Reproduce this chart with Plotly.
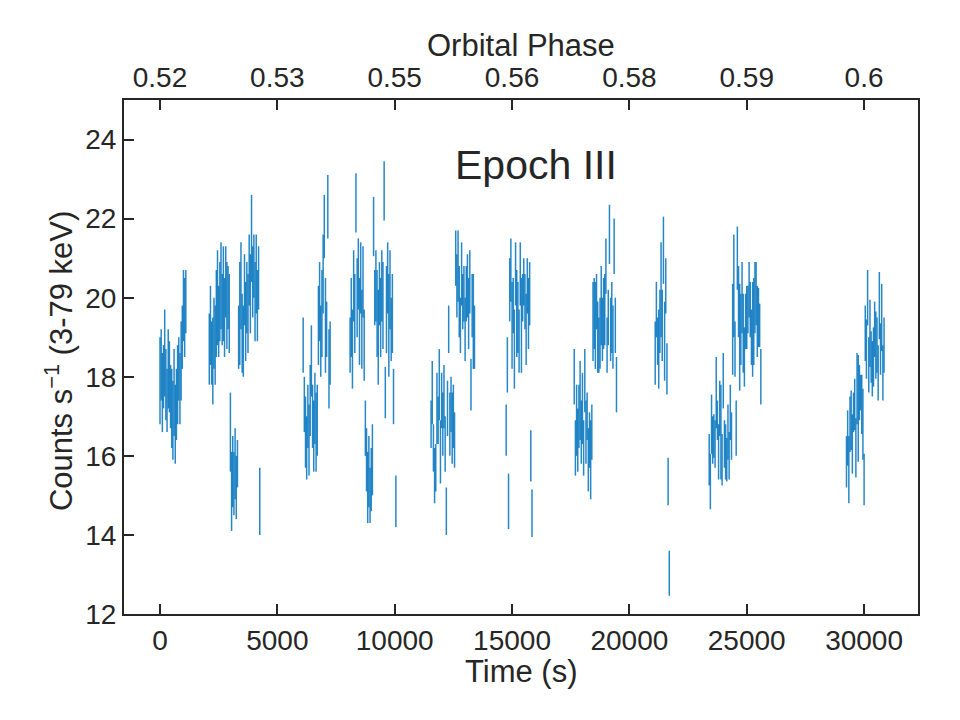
import plotly.graph_objects as go

# ---------------- data ----------------
TIME_S = [
    # orbit 1
    0, 50, 100, 150, 200, 250, 300, 350, 400, 450, 500, 550, 600, 650, 700, 750, 800, 850, 900, 950, 1000, 1050, 1100,
    # orbit 2
    2100, 2150, 2200, 2250, 2300, 2350, 2400, 2450, 2500, 2550, 2600, 2650, 2700, 2750, 2800, 2850, 2900, 2950,
    3000, 3050, 3100, 3150, 3200, 3250, 3300,
    3350, 3400, 3450, 3500, 3550, 3600, 3650, 3700, 3750, 3800, 3850, 3900, 3950, 4000, 4050, 4100, 4150, 4200,
    4250,
    # orbit 3
    6100, 6150, 6200, 6250, 6300, 6350, 6400, 6450, 6500, 6550, 6600, 6650, 6700,
    6750, 6800, 6850, 6900, 6950, 7000, 7050, 7100, 7150, 7200, 7250,
    # orbit 4
    8100, 8150, 8200, 8250, 8300, 8350, 8400, 8450, 8500, 8550, 8600, 8650, 8700,
    8750, 8800, 8850, 8900, 8950, 9000, 9050,
    9100, 9150, 9200, 9250, 9300, 9350, 9400, 9450, 9500, 9550, 9600, 9650, 9700, 9750, 9800, 9850, 9900, 9950,
    10050,
    # orbit 5
    11550, 11600, 11650, 11700, 11750, 11800, 11850, 11900, 11950, 12000, 12050, 12100, 12150, 12200, 12250,
    12300, 12350, 12400, 12450, 12500, 12550,
    12600, 12650, 12700, 12750, 12800, 12850, 12900, 12950, 13000, 13050, 13100, 13150, 13200, 13250, 13300,
    13350, 13400,
    # orbit 6
    14750, 14800, 14850, 14900, 14950, 15000, 15050, 15100, 15150, 15200, 15250, 15300, 15350, 15400, 15450,
    15500, 15550, 15600, 15650, 15700, 15750, 15800, 15850,
    # orbit 7
    17650, 17700, 17750, 17800, 17850, 17900, 17950, 18000, 18050, 18100, 18150, 18200, 18250, 18300, 18350, 18400,
    18450, 18500, 18550, 18600, 18650, 18700, 18750, 18800, 18850, 18900, 18950, 19000, 19050, 19100, 19150,
    19200, 19250, 19300, 19350, 19400, 19450,
    # orbit 8
    21100, 21150, 21200, 21250, 21300, 21350, 21400, 21450, 21500, 21550, 21600, 21650, 21700,
    # orbit 9
    23400, 23450, 23500, 23550, 23600, 23650, 23700, 23750, 23800, 23850, 23900, 23950, 24000, 24050, 24100,
    24150, 24200, 24250, 24300, 24350,
    24400, 24450, 24500, 24550, 24600, 24650, 24700, 24750, 24800, 24850, 24900, 24950, 25000, 25050, 25100,
    25150, 25200, 25250, 25300, 25350, 25400, 25450, 25500, 25550, 25600,
    # orbit 10
    29250, 29300, 29350, 29400, 29450, 29500, 29550, 29600, 29650, 29700, 29750, 29800, 29850, 29900, 29950,
    30000, 30050, 30100, 30150, 30200, 30250, 30300, 30350, 30400, 30450, 30500, 30550, 30600, 30650, 30700,
    30750, 30800, 30850,
]

RATE = [
    # orbit 1
    17.9, 18.3, 17.6, 18.0, 18.6, 17.8, 17.4, 18.2, 18.0, 17.5, 17.2, 16.9, 17.6, 16.8, 17.3, 17.8, 18.2, 17.7, 18.4, 19.0, 19.8, 19.5, 19.9,
    # orbit 2
    18.7, 19.3, 18.6, 18.4, 19.1, 18.8, 19.6, 20.0, 19.4, 19.9, 20.3, 19.7, 20.1, 19.5, 20.4, 19.8, 20.0, 19.6,
    16.6, 15.1, 15.6, 15.3, 15.8, 15.2, 15.8,
    19.0, 19.6, 20.3, 19.1, 18.9, 20.2, 19.4, 20.0, 19.6, 20.7, 20.1, 21.5, 20.4, 20.8, 19.9, 20.6, 19.8, 20.5,
    14.85,
    # orbit 3
    18.8, 17.3, 16.6, 16.2, 17.0, 16.4, 17.4, 18.4, 17.0, 16.5, 17.2, 16.6, 16.9,
    19.3, 19.9, 18.9, 19.6, 20.6, 21.8, 19.3, 19.2, 22.3, 18.2, 18.6,
    # orbit 4
    18.8, 19.5, 18.7, 20.3, 19.6, 22.4, 20.0, 20.6, 19.4, 20.5, 19.2, 20.4, 18.8,
    16.7, 15.9, 15.2, 15.6, 15.0, 15.4, 15.9,
    21.8, 20.0, 20.3, 19.6, 19.0, 20.1, 19.5, 20.3, 19.8, 22.7, 17.6, 19.7, 20.5, 19.3, 20.2, 19.2, 19.6, 17.5,
    14.85,
    # orbit 5
    16.8, 17.6, 16.2, 15.5, 15.7, 17.2, 16.9, 17.8, 16.1, 17.4, 16.8, 17.5, 16.3, 14.6, 17.2,
    19.2, 16.8, 17.3, 16.7, 17.0, 16.4,
    21.0, 20.3, 20.8, 19.9, 19.3, 20.6, 19.9, 20.1, 19.2, 20.1, 20.3, 19.6, 20.4, 17.8, 19.8,
    19.4, 19.0,
    # orbit 6
    16.65, 18.3, 14.85, 20.2, 20.7, 19.3, 19.8, 18.7, 20.6, 19.6, 19.5, 18.9, 20.6, 19.3, 20.0,
    20.4, 19.9, 19.2, 20.3, 19.6, 20.1, 16.0, 14.55,
    # orbit 7
    18.0, 16.2, 16.9, 16.4, 17.0, 17.4, 16.6, 17.2, 16.2, 17.9, 16.6, 17.0, 15.9, 16.4, 15.9, 16.6,
    19.4, 19.6, 19.3, 19.9, 19.0, 18.8, 19.1, 19.8, 19.2, 19.6, 19.7, 20.8, 18.8, 19.5, 21.6,
    19.2, 19.5, 19.0, 21.3, 19.3, 17.8,
    # orbit 8
    18.6, 19.7, 18.9, 18.7, 19.4, 20.2, 19.3, 21.2, 18.9, 20.3, 18.2, 15.35, 13.03,
    # orbit 9
    15.9, 15.35, 16.8, 16.4, 16.5, 16.3, 17.6, 16.9, 16.1, 17.2, 16.6, 15.9, 17.9, 16.3, 16.1,
    15.9, 16.6, 16.0, 17.1, 16.5,
    19.2, 20.3, 18.7, 16.7, 21.0, 19.9, 19.0, 19.2, 20.0, 19.1, 18.5, 19.4, 19.5, 19.7, 20.2,
    19.7, 19.0, 19.2, 19.4, 20.0, 20.1, 19.4, 19.5, 19.3, 18.0,
    # orbit 10
    15.85, 16.45, 15.65, 16.8, 16.9, 16.3, 17.1, 17.3, 16.2, 17.7, 17.2, 17.6, 17.6, 17.3, 16.8,
    15.4, 19.1, 18.7, 20.0, 18.3, 19.1, 18.5, 18.2, 18.5, 19.2, 18.8, 18.8, 18.1, 19.8, 18.7,
    19.5, 18.1, 18.8,
]

RATE_ERR = [
    # orbit 1
    1.1, 0.9, 1.0, 0.8, 1.1, 0.9, 0.8, 1.0, 0.9, 0.8, 1.0, 1.0, 1.1, 1.0, 0.9, 1.0, 0.8, 0.9, 1.0, 0.8, 0.9, 1.0, 0.8,
    # orbit 2
    0.9, 1.0, 0.8, 1.1, 0.9, 1.0, 1.1, 1.2, 0.9, 1.0, 1.1, 0.9, 1.2, 1.0, 0.9, 1.1, 0.8, 1.0,
    1.0, 1.0, 0.9, 0.8, 0.9, 0.8, 0.6,
    0.8, 1.3, 1.1, 1.0, 0.9, 0.9, 1.0, 0.9, 1.0, 0.9, 1.0, 1.1, 0.9, 0.8, 1.0, 1.0, 0.9, 0.8,
    0.85,
    # orbit 3
    0.7, 0.7, 0.9, 0.8, 0.8, 0.9, 0.9, 0.9, 0.8, 0.9, 0.9, 1.0, 0.9,
    1.0, 1.0, 0.9, 1.1, 1.0, 0.8, 1.2, 0.7, 0.8, 1.0, 0.8,
    # orbit 4
    0.7, 1.0, 1.0, 0.9, 1.0, 0.75, 1.0, 0.9, 1.1, 0.9, 1.0, 0.9, 0.9,
    0.7, 0.8, 0.9, 0.9, 0.7, 0.8, 0.9,
    0.75, 0.7, 0.9, 1.1, 1.2, 0.8, 1.0, 0.9, 1.1, 0.75, 0.65, 1.1, 0.9, 1.3, 1.0, 0.8, 1.0, 0.7,
    0.65,
    # orbit 5
    0.6, 0.8, 0.6, 0.7, 0.6, 0.9, 0.6, 0.9, 0.8, 0.7, 0.8, 0.8, 0.7, 0.6, 0.7,
    0.6, 0.8, 0.7, 0.9, 0.8, 0.7,
    0.7, 0.8, 0.9, 0.9, 0.7, 0.8, 0.7, 0.7, 0.8, 0.7, 0.8, 0.9, 0.8, 0.65, 0.8,
    1.2, 0.8,
    # orbit 6
    0.65, 0.7, 0.7, 0.8, 0.8, 1.1, 0.7, 1.0, 0.8, 1.1, 0.9, 0.8, 0.8, 1.2, 0.6,
    0.6, 0.7, 0.9, 0.7, 0.9, 0.8, 0.65, 0.6,
    # orbit 7
    0.7, 0.7, 0.9, 0.8, 0.8, 1.0, 0.8, 0.9, 0.7, 0.8, 0.8, 0.6, 0.8, 0.7, 1.0, 0.7,
    1.0, 0.9, 1.1, 0.7, 0.9, 0.7, 0.9, 1.0, 0.8, 0.9, 0.9, 0.7, 0.7, 0.7, 0.75,
    0.8, 0.9, 0.8, 0.7, 0.7, 0.7,
    # orbit 8
    0.8, 0.7, 0.6, 1.0, 0.8, 1.2, 0.9, 0.85, 1.0, 0.7, 0.65, 0.6, 0.57,
    # orbit 9
    0.65, 0.7, 0.75, 0.6, 0.55, 0.6, 0.9, 0.5, 0.7, 0.7, 1.2, 0.65, 0.7, 0.6, 0.7,
    0.55, 0.7, 0.6, 0.7, 0.6,
    1.15, 1.3, 0.7, 0.7, 0.8, 0.9, 1.35, 0.9, 0.9, 1.0, 0.75, 0.7, 0.8, 0.6, 0.7,
    0.7, 0.7, 1.2, 1.1, 0.9, 0.8, 0.9, 0.75, 0.55, 0.7,
    # orbit 10
    0.65, 0.7, 0.85, 0.7, 0.75, 0.75, 0.5, 0.65, 0.75, 0.9, 1.35, 0.7, 0.45, 0.75, 0.9,
    0.65, 0.7, 0.75, 0.7, 0.7, 0.85, 0.65, 0.7, 0.75, 0.7, 0.85, 0.7, 0.7, 0.85, 0.65,
    0.85, 0.7, 0.7,
]

assert len(TIME_S) == len(RATE) == len(RATE_ERR), (len(TIME_S), len(RATE), len(RATE_ERR))

TIME_TICKS = [0, 5000, 10000, 15000, 20000, 25000, 30000]
TIME_LABELS = ["0", "5000", "10000", "15000", "20000", "25000", "30000"]
PHASE_LABELS = ["0.52", "0.53", "0.55", "0.56", "0.58", "0.59", "0.6"]
RATE_TICKS = [12, 14, 16, 18, 20, 22, 24]
RATE_LABELS = ["12", "14", "16", "18", "20", "22", "24"]
X_RANGE = [-1534, 32297]
Y_RANGE = [12, 25]

# ---------------- style ----------------
FONT = "Liberation Sans, Arial, Helvetica, sans-serif"
INK = "#262626"
BAR_COLOR = "rgba(0,114,189,0.85)"

fig = go.Figure()
fig.add_trace(go.Scatter(
    x=TIME_S, y=RATE, mode="markers",
    marker=dict(size=1, color="rgba(0,0,0,0)"),
    error_y=dict(type="data", array=RATE_ERR, visible=True,
                 color=BAR_COLOR, thickness=1.5, width=0),
    hoverinfo="skip", showlegend=False,
))
# invisible companion trace so the top (orbital phase) axis is drawn
fig.add_trace(go.Scatter(
    x=TIME_S[:1], y=RATE[:1], xaxis="x2", mode="markers",
    marker=dict(size=1, color="rgba(0,0,0,0)"),
    hoverinfo="skip", showlegend=False,
))

axis_common = dict(
    showgrid=False, zeroline=False, showline=True, linecolor=INK, linewidth=2,
    ticks="inside", ticklen=10, tickwidth=1.5, tickcolor=INK,
    tickfont=dict(family=FONT, size=28, color=INK),
)

fig.update_layout(
    width=960, height=720,
    margin=dict(l=124, r=42, t=100, b=106),
    paper_bgcolor="white", plot_bgcolor="white",
    font=dict(family=FONT, color=INK),
    xaxis=dict(range=X_RANGE, tickvals=TIME_TICKS, ticktext=TIME_LABELS, **axis_common),
    xaxis2=dict(range=X_RANGE, tickvals=TIME_TICKS, ticktext=PHASE_LABELS,
                overlaying="x", side="top", anchor="y", **axis_common),
    yaxis=dict(range=Y_RANGE, tickvals=RATE_TICKS, ticktext=RATE_LABELS,
               mirror=True, **axis_common),
    annotations=[
        dict(text="Time (s)", xref="paper", yref="paper", x=0.5, y=0,
             yanchor="middle", yshift=-57, showarrow=False,
             font=dict(family=FONT, size=31, color=INK)),
        dict(text="Orbital Phase", xref="paper", yref="paper", x=0.5, y=1,
             yanchor="middle", yshift=55, showarrow=False,
             font=dict(family=FONT, size=31, color=INK)),
        dict(text="Counts s<sup>\u22121</sup> (3-79 keV)", xref="paper", yref="paper",
             x=0, y=0.492, xanchor="center", yanchor="middle", xshift=-65,
             textangle=-90, showarrow=False,
             font=dict(family=FONT, size=31, color=INK)),
        dict(text="Epoch III", xref="paper", yref="paper", x=0.519, y=0.8735,
             xanchor="center", yanchor="middle", showarrow=False,
             font=dict(family=FONT, size=41, color=INK)),
    ],
)

fig.write_html("out.html")
